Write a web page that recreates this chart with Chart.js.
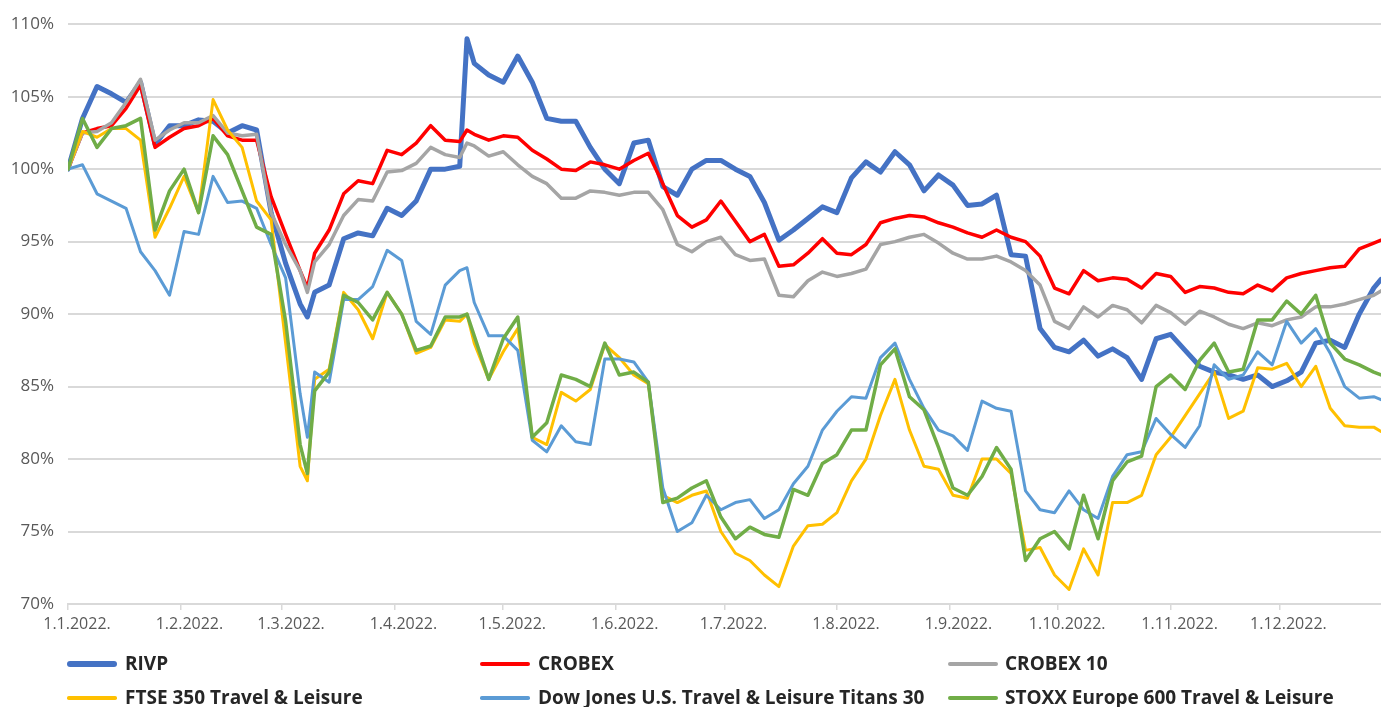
<!DOCTYPE html>
<html>
<head>
<meta charset="utf-8">
<script src="https://cdn.jsdelivr.net/npm/chart.js@4.4.1/dist/chart.umd.min.js"></script>
<style>
html,body{margin:0;padding:0;background:#fff;}
#wrap{position:relative;width:1381px;height:707px;overflow:hidden;background:#fff;}
#c{position:absolute;left:0;top:0;}
.lgt{position:absolute;font-family:"Open Sans",sans-serif;font-weight:700;font-size:19px;color:#262626;white-space:nowrap;line-height:22px;}
.lgs{position:absolute;}
</style>
</head>
<body>
<div id="wrap">
<canvas id="c" width="1381" height="707"></canvas>
<div id="legend"></div>
</div>
<script>
// Day of year 2022 (0 = 1 January)
const days = [0,4,8,12,16,20,24,28,32,36,40,44,48,52,56,60,
  64,66,68,
  72,76,80,84,88,92,96,100,104,108,
  110,
  112,116,120,124,128,132,136,140,144,148,
  152,156,160,164,168,172,176,180,184,188,
  192,196,200,204,208,212,216,220,224,228,
  232,236,240,244,248,252,256,260,264,268,
  272,276,280,284,288,292,296,300,304,308,
  312,316,320,324,328,332,336,340,344,348,
  352,356,360,362];

const rivp = [100,103.5,105.7,105.2,104.6,106.0,101.7,103.0,103.0,103.4,103.3,102.5,103.0,102.7,97.0,93.5,
  90.7,89.8,91.5,
  92.0,95.2,95.6,95.4,97.3,96.8,97.8,100.0,100.0,100.2,
  109.0,
  107.3,106.5,106.0,107.8,106.0,103.5,103.3,103.3,101.5,100.0,
  99.0,101.8,102.0,98.8,98.2,100.0,100.6,100.6,100.0,99.5,
  97.7,95.1,95.8,96.6,97.4,97.0,99.4,100.5,99.8,101.2,
  100.3,98.5,99.6,98.9,97.5,97.6,98.2,94.1,94.0,89.0,
  87.7,87.4,88.2,87.1,87.6,87.0,85.5,88.3,88.6,87.5,
  86.4,86.0,85.8,85.5,85.8,85.0,85.4,86.0,88.0,88.2,
  87.7,90.0,91.8,92.4];

const crobex = [100,102.5,102.8,103.0,104.2,105.8,101.5,102.2,102.8,103.0,103.5,102.3,102.0,102.0,98.1,95.5,
  93.0,91.8,94.2,
  95.8,98.3,99.2,99.0,101.3,101.0,101.8,103.0,102.0,101.9,
  102.7,
  102.4,102.0,102.3,102.2,101.3,100.7,100.0,99.9,100.5,100.3,
  100.0,100.6,101.1,99.0,96.8,96.0,96.5,97.8,96.4,95.0,
  95.5,93.3,93.4,94.2,95.2,94.2,94.1,94.8,96.3,96.6,
  96.8,96.7,96.3,96.0,95.6,95.3,95.8,95.3,95.0,94.0,
  91.8,91.4,93.0,92.3,92.5,92.4,91.8,92.8,92.6,91.5,
  91.9,91.8,91.5,91.4,92.0,91.6,92.5,92.8,93.0,93.2,
  93.3,94.5,94.9,95.1];

const crobex10 = [100,102.5,102.6,103.2,104.6,106.2,102.0,102.7,103.2,103.2,103.7,102.5,102.3,102.4,97.0,94.8,
  93.0,91.5,93.6,
  94.8,96.8,97.9,97.8,99.8,99.9,100.4,101.5,101.0,100.8,
  101.8,
  101.6,100.9,101.2,100.3,99.5,99.0,98.0,98.0,98.5,98.4,
  98.2,98.4,98.4,97.2,94.8,94.3,95.0,95.3,94.1,93.7,
  93.8,91.3,91.2,92.3,92.9,92.6,92.8,93.1,94.8,95.0,
  95.3,95.5,94.9,94.2,93.8,93.8,94.0,93.6,93.0,92.0,
  89.5,89.0,90.5,89.8,90.6,90.3,89.4,90.6,90.1,89.3,
  90.2,89.8,89.3,89.0,89.4,89.2,89.6,89.8,90.5,90.5,
  90.7,91.0,91.3,91.6];

const ftse350 = [100,102.6,102.2,102.8,102.8,102.0,95.3,97.3,99.5,97.0,104.8,102.7,101.5,97.8,96.5,88.0,
  79.5,78.5,85.5,
  86.2,91.5,90.3,88.3,91.5,90.0,87.3,87.7,89.6,89.5,
  90.0,
  88.0,85.5,87.4,89.0,81.5,81.0,84.6,84.0,84.8,87.9,
  87.0,85.8,85.2,77.5,77.0,77.5,77.8,75.0,73.5,73.0,
  72.0,71.2,74.0,75.4,75.5,76.3,78.5,80.0,83.0,85.5,
  82.0,79.5,79.3,77.5,77.3,80.0,80.0,79.0,73.7,73.9,
  72.0,71.0,73.8,72.0,77.0,77.0,77.5,80.3,81.5,83.0,
  84.5,86.0,82.8,83.3,86.3,86.2,86.6,85.0,86.4,83.5,
  82.3,82.2,82.2,81.9];

const dowJones = [100,100.3,98.3,97.8,97.3,94.3,93.0,91.3,95.7,95.5,99.5,97.7,97.8,97.3,94.8,92.5,
  84.5,81.5,86.0,
  85.3,91.0,91.0,91.9,94.4,93.7,89.5,88.6,92.0,93.0,
  93.2,
  90.8,88.5,88.5,87.5,81.3,80.5,82.3,81.2,81.0,86.9,
  86.9,86.7,85.3,78.0,75.0,75.6,77.5,76.5,77.0,77.2,
  75.9,76.5,78.3,79.5,82.0,83.3,84.3,84.2,87.0,88.0,
  85.5,83.5,82.0,81.6,80.6,84.0,83.5,83.3,77.8,76.5,
  76.3,77.8,76.5,75.9,78.8,80.3,80.5,82.8,81.7,80.8,
  82.3,86.5,85.5,85.8,87.4,86.5,89.5,88.0,89.0,87.3,
  85.0,84.2,84.3,84.1];

const stoxx600 = [100,103.5,101.5,102.8,103.0,103.5,95.8,98.5,100.0,97.0,102.3,101.0,98.5,96.0,95.5,89.5,
  81.0,79.0,84.7,
  86.0,91.3,90.8,89.6,91.5,90.0,87.5,87.8,89.8,89.8,
  90.0,
  88.5,85.5,88.3,89.8,81.5,82.5,85.8,85.5,85.0,88.0,
  85.8,86.0,85.3,77.0,77.3,78.0,78.5,76.0,74.5,75.3,
  74.8,74.6,77.9,77.5,79.7,80.3,82.0,82.0,86.5,87.6,
  84.3,83.4,80.8,78.0,77.5,78.8,80.8,79.3,73.0,74.5,
  75.0,73.8,77.5,74.5,78.5,79.8,80.2,85.0,85.8,84.8,
  86.8,88.0,86.0,86.2,89.6,89.6,90.9,90.0,91.3,88.0,
  86.9,86.5,86.0,85.8];

const seriesNames = ['RIVP','CROBEX','CROBEX 10','FTSE 350 Travel & Leisure','Dow Jones U.S. Travel & Leisure Titans 30','STOXX Europe 600 Travel & Leisure'];
const seriesValues = [rivp, crobex, crobex10, ftse350, dowJones, stoxx600];

const monthStarts = [0,31,59,90,120,151,181,212,243,273,304,334];
const monthLabels = ['1.1.2022.','1.2.2022.','1.3.2022.','1.4.2022.','1.5.2022.','1.6.2022.','1.7.2022.','1.8.2022.','1.9.2022.','1.10.2022.','1.11.2022.','1.12.2022.'];
const yTicks = [70,75,80,85,90,95,100,105,110];

// styles (kept apart from the data)
const colors = ['#4472C4','#FF0000','#A5A5A5','#FFC000','#5B9BD5','#70AD47'];
const widths = [5,3.5,3.5,3,3,3.5];

const datasets = seriesNames.map((name, i) => ({
  label: name,
  data: days.map((d, j) => ({x: d, y: seriesValues[i][j]})),
  borderColor: colors[i],
  backgroundColor: colors[i],
  borderWidth: widths[i],
  pointRadius: 0,
  pointHoverRadius: 0,
  tension: 0,
  fill: false,
  borderJoinStyle: 'round',
  borderCapStyle: 'round',
  order: seriesNames.length - i
}));

new Chart(document.getElementById('c'), {
  type: 'line',
  data: { datasets },
  options: {
    responsive: false,
    animation: false,
    events: [],
    layout: { padding: { top: 24, right: 0, bottom: 63, left: 0 } },
    plugins: { legend: { display: false }, tooltip: { enabled: false } },
    scales: {
      x: {
        type: 'linear',
        min: 0,
        max: 362,
        afterBuildTicks: (s) => { s.ticks = monthStarts.map(v => ({ value: v })); },
        afterFit: (s) => { s.height = 40; },
        ticks: {
          autoSkip: false,
          maxRotation: 0,
          minRotation: 0,
          labelOffset: 9,
          padding: 5,
          color: '#595959',
          font: { family: 'Open Sans', size: 16 },
          callback: (v) => monthLabels[monthStarts.indexOf(v)]
        },
        grid: { drawOnChartArea: false, drawTicks: true, tickLength: 6, color: '#d9d9d9', lineWidth: 1.5 },
        border: { display: true, color: '#d9d9d9', width: 2 }
      },
      y: {
        min: 70,
        max: 110,
        afterBuildTicks: (s) => { s.ticks = yTicks.map(v => ({ value: v })); },
        afterFit: (s) => { s.width = 68; },
        ticks: {
          padding: 14,
          color: '#595959',
          font: { family: 'Open Sans', size: 17 },
          callback: (v) => v + '%'
        },
        grid: { color: '#d9d9d9', lineWidth: 2, drawTicks: false },
        border: { display: false }
      }
    }
  }
});

// HTML legend (3 columns x 2 rows)
const legendCols = [{sx: 67, tx: 125}, {sx: 480, tx: 538}, {sx: 948, tx: 1005}];
const legendRows = [664, 698];
const legendEl = document.getElementById('legend');
seriesNames.forEach((name, i) => {
  const col = legendCols[i % 3];
  const cy = legendRows[Math.floor(i / 3)];
  const h = widths[i] + (i === 0 ? 1 : 0.5);
  const sw = document.createElement('div');
  sw.className = 'lgs';
  sw.style.left = col.sx + 'px';
  sw.style.top = (cy - h / 2) + 'px';
  sw.style.width = '50px';
  sw.style.height = h + 'px';
  sw.style.borderRadius = (h / 2) + 'px';
  sw.style.background = colors[i];
  legendEl.appendChild(sw);
  const t = document.createElement('div');
  t.className = 'lgt';
  t.style.left = col.tx + 'px';
  t.style.top = (cy - 12) + 'px';
  t.textContent = name;
  legendEl.appendChild(t);
});
</script>
</body>
</html>
